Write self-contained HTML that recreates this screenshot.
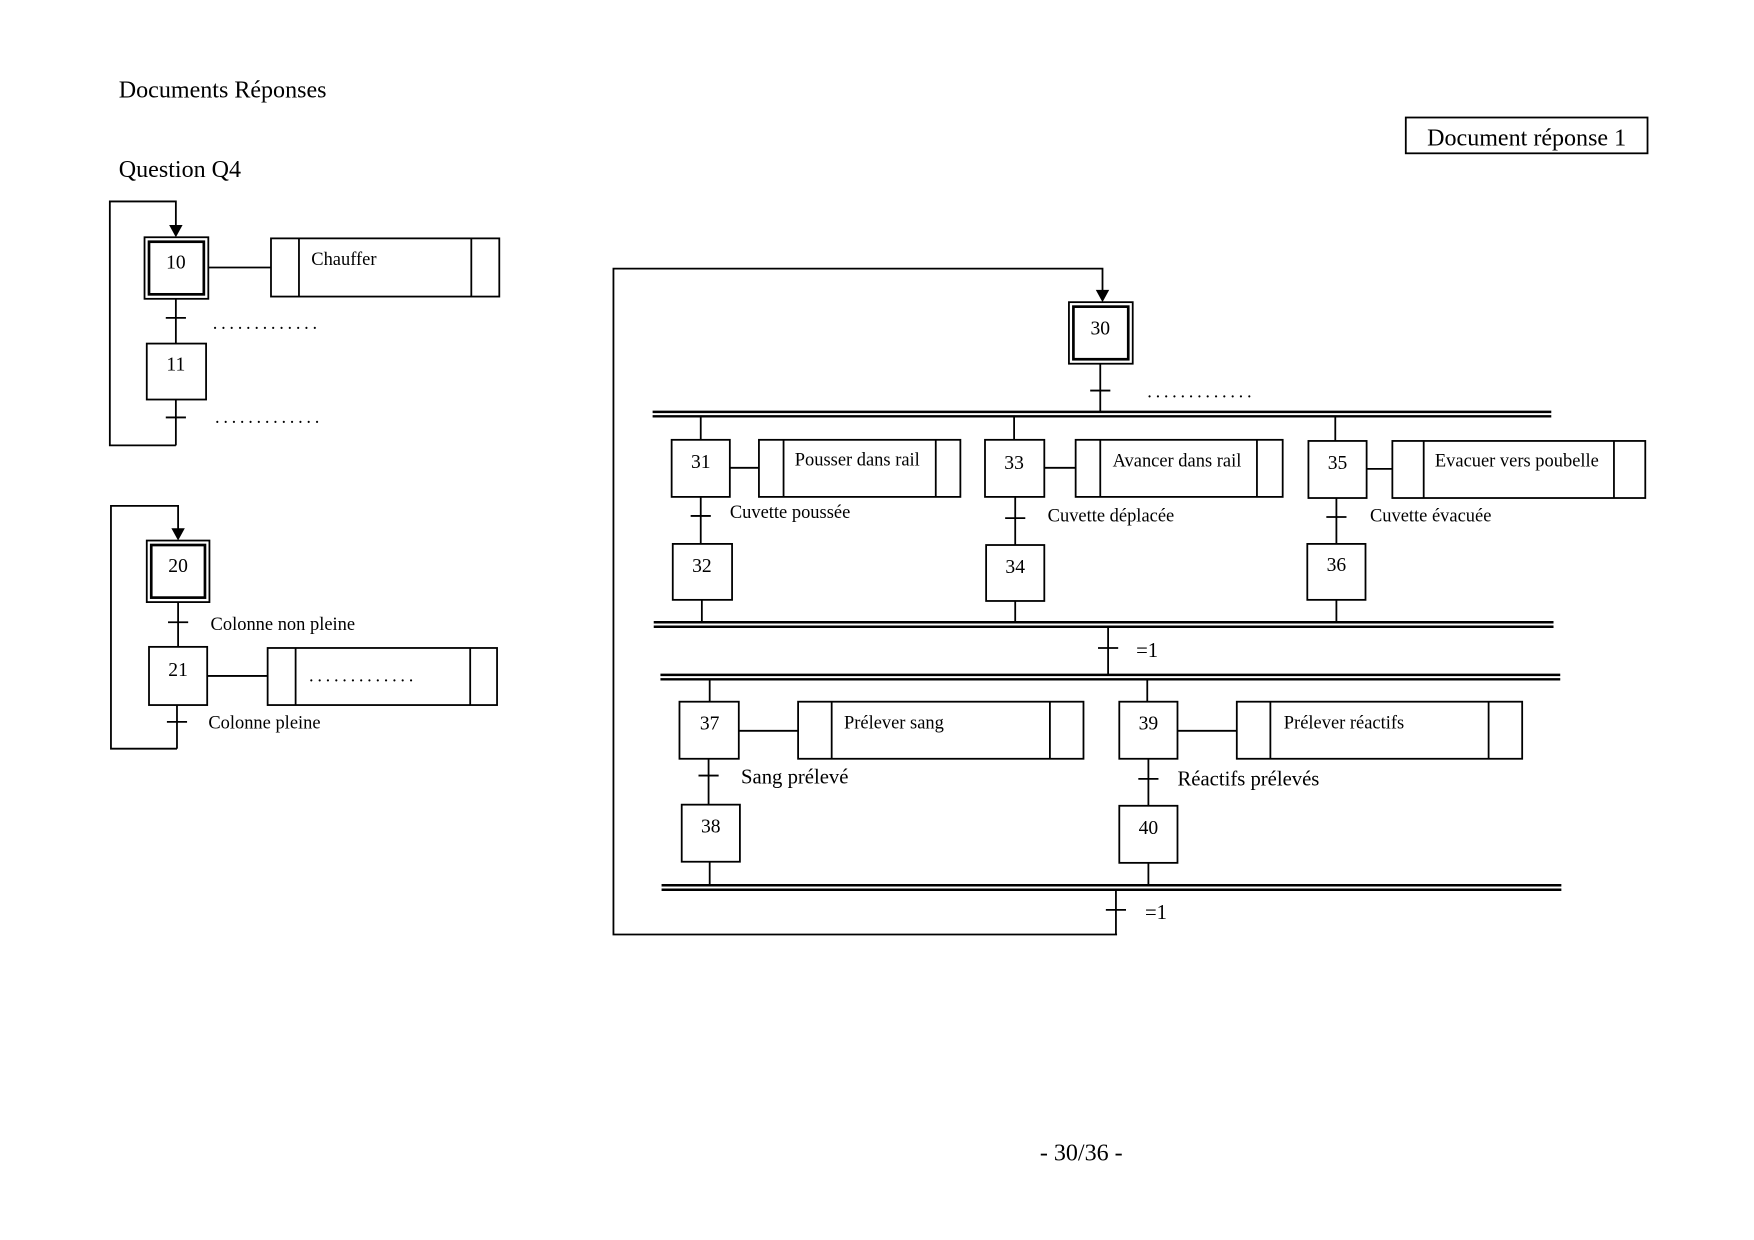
<!DOCTYPE html>
<html><head><meta charset="utf-8"><style>html,body{margin:0;padding:0;background:#fff}svg{display:block}text{font-family:"Liberation Serif",serif;fill:#000}.d{letter-spacing:3.3px}</style></head><body>
<svg width="1754" height="1240" viewBox="0 0 1567 1108" xmlns="http://www.w3.org/2000/svg">
<g stroke="#000" stroke-width="1.6" fill="none">
<polyline points="157,398 98,398 98,180 157,180 157,203"/>
<rect x="129" y="212" width="57" height="55"/><rect x="133" y="216" width="49" height="47" stroke-width="2.4"/>
<line x1="186" y1="239" x2="242" y2="239"/>
<rect x="242" y="213" width="204" height="52"/><line x1="267" y1="213" x2="267" y2="265"/><line x1="421" y1="213" x2="421" y2="265"/>
<line x1="157" y1="267" x2="157" y2="307"/><line x1="148" y1="284" x2="166" y2="284"/>
<rect x="131" y="307" width="53" height="50"/>
<line x1="157" y1="357" x2="157" y2="398"/><line x1="148" y1="373" x2="166" y2="373"/>
<polyline points="158,669 99,669 99,452 159,452 159,474"/>
<rect x="131" y="483" width="56" height="55"/><rect x="135" y="487" width="48" height="47" stroke-width="2.4"/>
<line x1="159" y1="538" x2="159" y2="578"/><line x1="150" y1="556" x2="168" y2="556"/>
<rect x="133" y="578" width="52" height="52"/>
<line x1="185" y1="604" x2="239" y2="604"/>
<rect x="239" y="579" width="205" height="51"/><line x1="264" y1="579" x2="264" y2="630"/><line x1="420" y1="579" x2="420" y2="630"/>
<line x1="158" y1="630" x2="158" y2="669"/><line x1="149" y1="645" x2="167" y2="645"/>
<polyline points="998,835 548,835 548,240 985,240 985,261"/>
<rect x="955" y="270" width="57" height="55"/><rect x="959" y="274" width="49" height="47" stroke-width="2.4"/>
<line x1="983" y1="325" x2="983" y2="368"/><line x1="974" y1="349" x2="992" y2="349"/>
<line x1="583" y1="368" x2="1386" y2="368" stroke-width="2.2"/><line x1="583" y1="372" x2="1386" y2="372" stroke-width="2.2"/>
<line x1="626" y1="372" x2="626" y2="393"/><line x1="906" y1="372" x2="906" y2="393"/><line x1="1193" y1="372" x2="1193" y2="394"/>
<rect x="600" y="393" width="52" height="51"/><line x1="652" y1="418" x2="678" y2="418"/>
<rect x="678" y="393" width="180" height="51"/><line x1="700" y1="393" x2="700" y2="444"/><line x1="836" y1="393" x2="836" y2="444"/>
<rect x="880" y="393" width="53" height="51"/><line x1="933" y1="418" x2="961" y2="418"/>
<rect x="961" y="393" width="185" height="51"/><line x1="983" y1="393" x2="983" y2="444"/><line x1="1123" y1="393" x2="1123" y2="444"/>
<rect x="1169" y="394" width="52" height="51"/><line x1="1221" y1="419" x2="1244" y2="419"/>
<rect x="1244" y="394" width="226" height="51"/><line x1="1272" y1="394" x2="1272" y2="445"/><line x1="1442" y1="394" x2="1442" y2="445"/>
<line x1="626" y1="444" x2="626" y2="486"/><line x1="617" y1="461" x2="635" y2="461"/>
<line x1="907" y1="444" x2="907" y2="487"/><line x1="898" y1="463" x2="916" y2="463"/>
<line x1="1194" y1="445" x2="1194" y2="486"/><line x1="1185" y1="462" x2="1203" y2="462"/>
<rect x="601" y="486" width="53" height="50"/><rect x="881" y="487" width="52" height="50"/><rect x="1168" y="486" width="52" height="50"/>
<line x1="627" y1="536" x2="627" y2="556"/><line x1="907" y1="537" x2="907" y2="556"/><line x1="1194" y1="536" x2="1194" y2="556"/>
<line x1="584" y1="556" x2="1388" y2="556" stroke-width="2.2"/><line x1="584" y1="560" x2="1388" y2="560" stroke-width="2.2"/>
<line x1="990" y1="560" x2="990" y2="603"/><line x1="981" y1="579" x2="999" y2="579"/>
<line x1="590" y1="603" x2="1394" y2="603" stroke-width="2.2"/><line x1="590" y1="607" x2="1394" y2="607" stroke-width="2.2"/>
<line x1="634" y1="607" x2="634" y2="627"/><line x1="1025" y1="607" x2="1025" y2="627"/>
<rect x="607" y="627" width="53" height="51"/><line x1="660" y1="653" x2="713" y2="653"/>
<rect x="713" y="627" width="255" height="51"/><line x1="743" y1="627" x2="743" y2="678"/><line x1="938" y1="627" x2="938" y2="678"/>
<rect x="1000" y="627" width="52" height="51"/><line x1="1052" y1="653" x2="1105" y2="653"/>
<rect x="1105" y="627" width="255" height="51"/><line x1="1135" y1="627" x2="1135" y2="678"/><line x1="1330" y1="627" x2="1330" y2="678"/>
<line x1="633" y1="678" x2="633" y2="719"/><line x1="624" y1="693" x2="642" y2="693"/>
<line x1="1026" y1="678" x2="1026" y2="720"/><line x1="1017" y1="696" x2="1035" y2="696"/>
<rect x="609" y="719" width="52" height="51"/><rect x="1000" y="720" width="52" height="51"/>
<line x1="634" y1="770" x2="634" y2="791"/><line x1="1026" y1="771" x2="1026" y2="791"/>
<line x1="591" y1="791" x2="1395" y2="791" stroke-width="2.2"/><line x1="591" y1="795" x2="1395" y2="795" stroke-width="2.2"/>
<line x1="997" y1="795" x2="997" y2="835"/><line x1="988" y1="813" x2="1006" y2="813"/>
<rect x="1256" y="105" width="216" height="32"/>
</g>
<g fill="#000">
<polygon points="151,201 163,201 157,212"/><polygon points="153,472 165,472 159,483"/><polygon points="979,259 991,259 985,270"/>
</g>
<g font-size="21.5">
<text x="106" y="87">Documents Réponses</text>
<text x="106" y="158">Question Q4</text>
<text x="1364" y="130" text-anchor="middle">Document réponse 1</text>
<text x="966" y="1037" text-anchor="middle">- 30/36 -</text>
</g>
<g font-size="17.5" text-anchor="middle">
<text x="157" y="240">10</text><text x="157" y="331">11</text>
<text x="159" y="511">20</text><text x="159" y="604">21</text>
<text x="983" y="299">30</text>
<text x="626" y="418">31</text><text x="906" y="419">33</text><text x="1195" y="419">35</text>
<text x="627" y="511">32</text><text x="907" y="512">34</text><text x="1194" y="510">36</text>
<text x="634" y="652">37</text><text x="1026" y="652">39</text>
<text x="635" y="744">38</text><text x="1026" y="745">40</text>
</g>
<g font-size="16.5">
<text x="278" y="237">Chauffer</text>
<text class="d" x="190" y="294">.............</text><text class="d" x="192" y="378">.............</text>
<text x="188" y="563">Colonne non pleine</text>
<text class="d" x="276" y="609">.............</text>
<text x="186" y="651">Colonne pleine</text>
<text class="d" x="1025" y="355">.............</text>
<text x="710" y="416">Pousser dans rail</text>
<text x="994" y="417">Avancer dans rail</text>
<text x="1282" y="417">Evacuer vers poubelle</text>
<text x="652" y="463">Cuvette poussée</text>
<text x="936" y="466">Cuvette déplacée</text>
<text x="1224" y="466">Cuvette évacuée</text>
<text x="754" y="651">Prélever sang</text>
<text x="1147" y="651">Prélever réactifs</text>
</g>
<g font-size="18.5">
<text x="1015" y="587">=1</text><text x="1023" y="821">=1</text>
<text x="662" y="700">Sang prélevé</text><text x="1052" y="702">Réactifs prélevés</text>
</g>
</svg>
</body></html>
